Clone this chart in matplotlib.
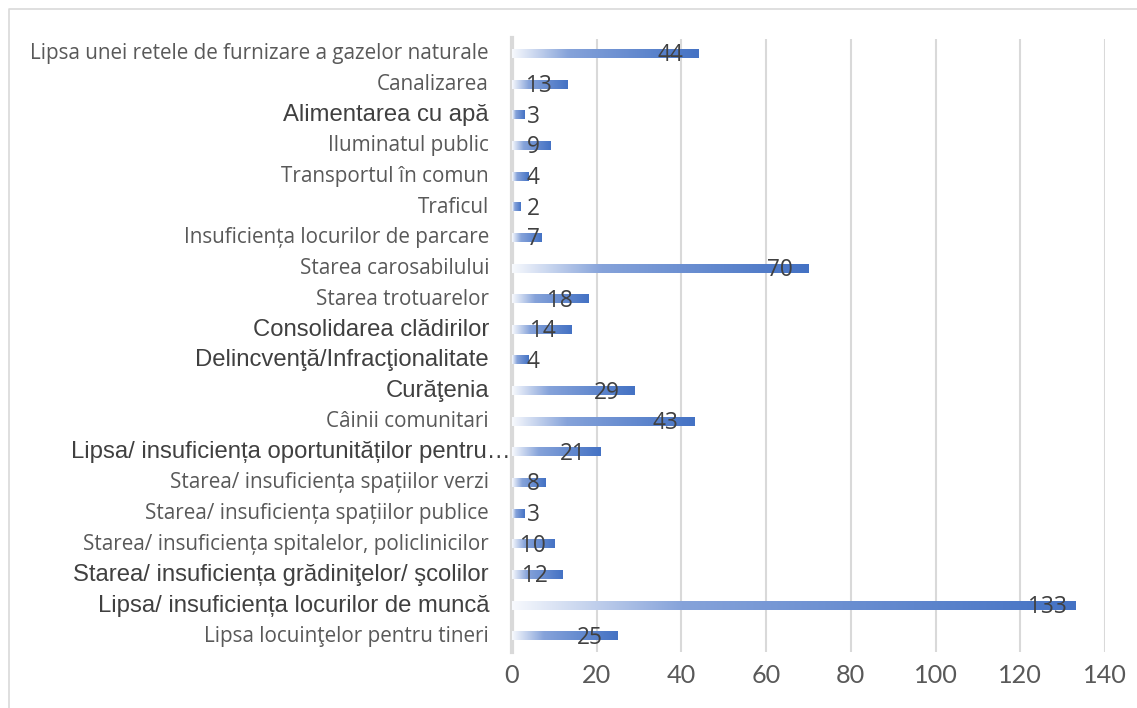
import numpy as np
from matplotlib import pyplot as plt
from matplotlib.colors import LinearSegmentedColormap
from matplotlib.lines import Line2D

# categories, top to bottom as shown on the chart
categories = [
    "Lipsa unei retele de furnizare a gazelor naturale",
    "Canalizarea",
    "Alimentarea cu apă",
    "Iluminatul public",
    "Transportul în comun",
    "Traficul",
    "Insuficiența locurilor de parcare",
    "Starea carosabilului",
    "Starea trotuarelor",
    "Consolidarea clădirilor",
    "Delincvenţă/Infracţionalitate",
    "Curăţenia",
    "Câinii comunitari",
    "Lipsa/ insuficiența oportunităților pentru…",
    "Starea/ insuficiența spațiilor verzi",
    "Starea/ insuficiența spațiilor publice",
    "Starea/ insuficiența spitalelor, policlinicilor",
    "Starea/ insuficiența grădiniţelor/ şcolilor",
    "Lipsa/ insuficiența locurilor de muncă",
    "Lipsa locuinţelor pentru tineri",
]
values = [44, 13, 3, 9, 4, 2, 7, 70, 18, 14, 4, 29, 43, 21, 8, 3, 10, 12, 133, 25]
# labels typed in a different (Arial-like, larger) font in the original
arial_labels = {
    "Alimentarea cu apă",
    "Consolidarea clădirilor",
    "Delincvenţă/Infracţionalitate",
    "Curăţenia",
    "Lipsa/ insuficiența oportunităților pentru…",
    "Starea/ insuficiența grădiniţelor/ şcolilor",
    "Lipsa/ insuficiența locurilor de muncă",
}
xticks = [0, 20, 40, 60, 80, 100, 120, 140]

grad = LinearSegmentedColormap.from_list(
    "bar", [(0.0, "#f7f9fd"), (0.3, "#86a3da"), (1.0, "#4472c4")])

fig = plt.figure(figsize=(11.37, 7.08), dpi=100)
ax = fig.add_axes([512 / 1137, 1 - 651.5 / 708, (1105 - 512) / 1137, (651.5 - 38.5) / 708])

n = len(categories)
ys = np.arange(n)
bar_h = 0.27
gsteps = np.linspace(0, 1, 256).reshape(1, -1)
for y, v in zip(ys, values):
    ax.imshow(gsteps, cmap=grad, aspect="auto", interpolation="bilinear",
              extent=(0, v, y + bar_h / 2, y - bar_h / 2), zorder=3)
    cx = max(v - 6.7, 5.0)
    ax.text(cx, y + 0.05, str(v), ha="center", va="center", fontsize=16.3,
            family="Open Sans", color="#404040", zorder=4)

ax.set_xlim(0, 140)
ax.set_ylim(n - 0.5, -0.5)
ax.set_xticks(xticks)
ax.set_yticks([])
ax.tick_params(axis="x", length=0, pad=9, labelsize=18.2, labelcolor="#595959")
for lab in ax.get_xticklabels():
    lab.set_family("Lato")

ax.set_axisbelow(True)
ax.xaxis.grid(True, color="#d9d9d9", linewidth=1.5)
for side in ("top", "right", "bottom"):
    ax.spines[side].set_visible(False)
ax.spines["left"].set_color("#d9d9d9")
ax.spines["left"].set_linewidth(3)
ax.spines["left"].set_zorder(2)

# category labels
for y, cat in zip(ys, categories):
    if cat in arial_labels:
        off = -1 if cat.endswith("…") else -23
        ax.annotate(cat, xy=(0, y), xycoords=("axes fraction", "data"),
                    xytext=(off * 0.72, 0), textcoords="offset points",
                    ha="right", va="center", fontsize=17.2,
                    family="Liberation Sans", color="#404040")
    else:
        ax.annotate(cat, xy=(0, y), xycoords=("axes fraction", "data"),
                    xytext=(-23 * 0.72, 0), textcoords="offset points",
                    ha="right", va="center", fontsize=14.9,
                    family="Open Sans", color="#595959")

# outer chart frame (only top and left visible in the crop)
fig.add_artist(Line2D([8.5 / 1137, 8.5 / 1137, 1.0], [0.0, 1 - 9 / 708, 1 - 9 / 708],
                      transform=fig.transFigure, color="#d9d9d9", linewidth=1.2))

fig.savefig("out.png", dpi=100)
